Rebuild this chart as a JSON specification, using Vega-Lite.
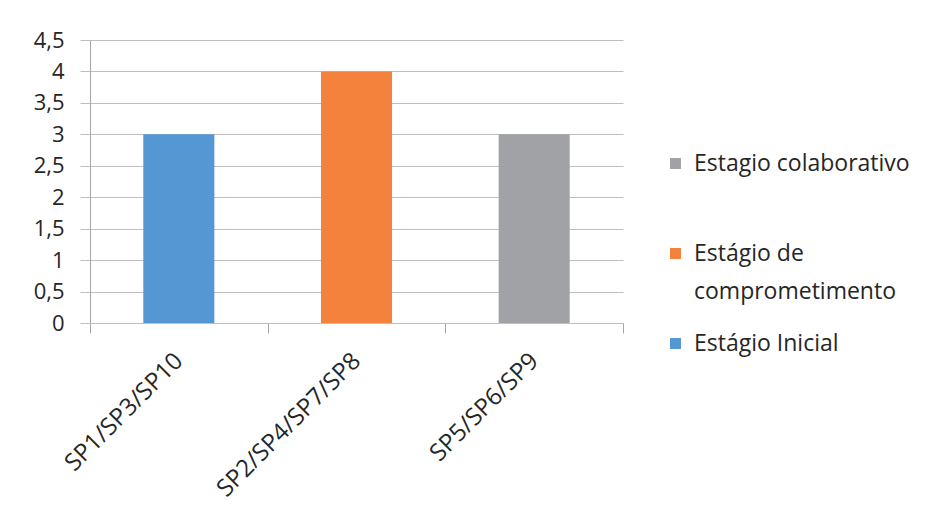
{
  "$schema": "https://vega.github.io/schema/vega-lite/v6.json",
  "width": 533,
  "height": 283,
  "autosize": {"type": "none"},
  "padding": {"left": 90, "top": 40, "right": 329, "bottom": 208},
  "background": "white",
  "data": {
    "values": [
      {"grupo": "SP1/SP3/SP10", "estagio": "Estágio Inicial", "valor": 3},
      {"grupo": "SP2/SP4/SP7/SP8", "estagio": "Estágio de comprometimento", "valor": 4},
      {"grupo": "SP5/SP6/SP9", "estagio": "Estagio colaborativo", "valor": 3}
    ]
  },
  "mark": {"type": "bar", "width": {"band": 0.4}},
  "encoding": {
    "x": {
      "field": "grupo",
      "type": "nominal",
      "sort": null,
      "title": null,
      "scale": {"paddingInner": 0, "paddingOuter": 0},
      "axis": {
        "labelAngle": -45,
        "labelAlign": "right",
        "labelBaseline": "middle",
        "labelPadding": 24,
        "labelFontSize": 24,
        "labelFont": "Open Sans",
        "labelColor": "#262626",
        "labelLimit": 400,
        "tickBand": "extent",
        "tickSize": 10,
        "tickColor": "#A6A6A6",
        "domainColor": "#BFBFBF",
        "grid": false
      }
    },
    "y": {
      "field": "valor",
      "type": "quantitative",
      "title": null,
      "scale": {"domain": [0, 4.5], "nice": false},
      "axis": {
        "values": [0, 0.5, 1, 1.5, 2, 2.5, 3, 3.5, 4, 4.5],
        "labelExpr": "replace(format(datum.value, '~g'), '.', ',')",
        "labelFontSize": 22,
        "labelFont": "Open Sans",
        "labelColor": "#262626",
        "labelPadding": 16,
        "tickSize": 10,
        "tickColor": "#BFBFBF",
        "domainColor": "#A6A6A6",
        "gridColor": "#BFBFBF",
        "grid": true
      }
    },
    "color": {
      "field": "estagio",
      "type": "nominal",
      "scale": {
        "domain": ["Estagio colaborativo", "Estágio de comprometimento", "Estágio Inicial"],
        "range": ["#A0A2A5", "#F5823C", "#5597D3"]
      },
      "legend": {
        "title": null,
        "orient": "none",
        "legendX": 574,
        "legendY": 112,
        "symbolType": "square",
        "symbolSize": 120,
        "symbolStrokeWidth": 0,
        "labelFont": "Open Sans",
        "labelFontSize": 23,
        "labelColor": "#262626",
        "labelLimit": 400,
        "labelOffset": 7,
        "labelBaseline": "middle",
        "labelExpr": "datum.label == 'Estágio de comprometimento' ? ['Estágio de', 'comprometimento'] : [datum.label, '']",
        "rowPadding": 28
      }
    }
  },
  "config": {
    "view": {"stroke": null},
    "style": {"guide-label": {"lineHeight": 38}},
    "axis": {"domainWidth": 1, "gridWidth": 1}
  }
}
